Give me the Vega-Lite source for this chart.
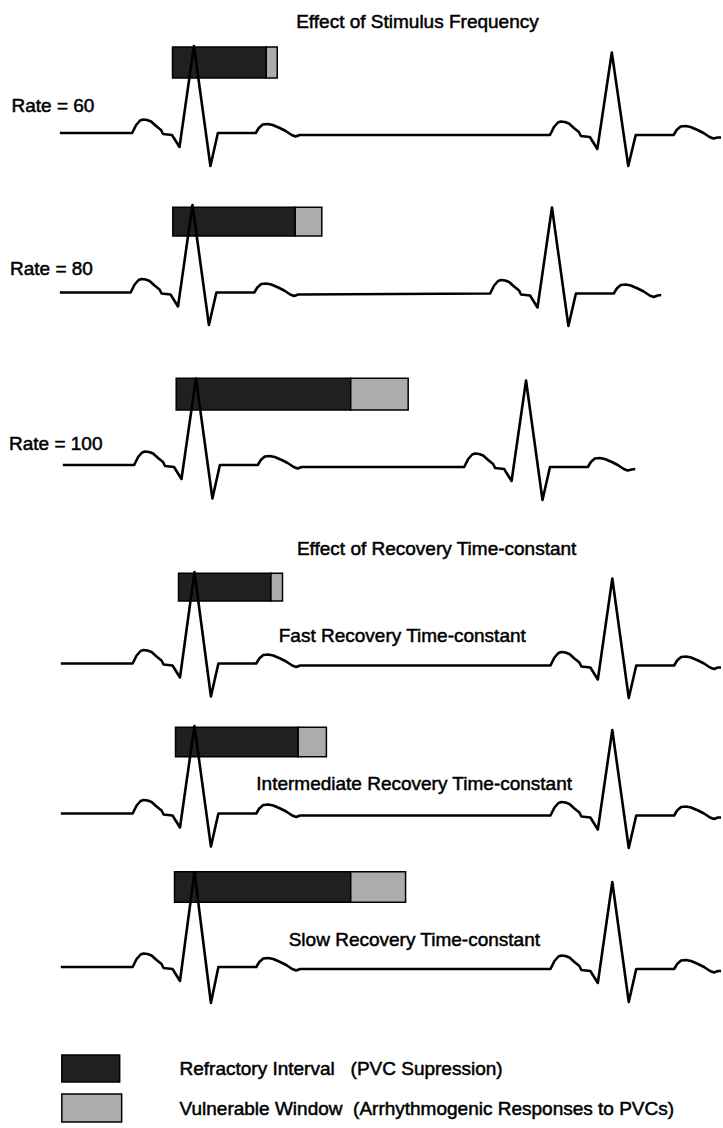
{
  "$schema": "https://vega.github.io/schema/vega-lite/v6.json",
  "width": 723,
  "height": 1128,
  "autosize": {"type": "fit", "contains": "padding"},
  "padding": 0,
  "background": "white",
  "view": {"stroke": null},
  "datasets": {
    "ecg": [
      {"t":1,"x":60,"y":133},{"t":1,"x":132.5,"y":133},{"t":1,"x":136.5,"y":125},{"t":1,"x":140.5,"y":120.5},{"t":1,"x":143.5,"y":119.5},{"t":1,"x":147.5,"y":120},{"t":1,"x":151.5,"y":121.5},{"t":1,"x":156.5,"y":126},{"t":1,"x":161.5,"y":130},{"t":1,"x":163.5,"y":134},{"t":1,"x":172.5,"y":135},{"t":1,"x":180,"y":147},{"t":1,"x":194.5,"y":46},{"t":1,"x":211,"y":166},{"t":1,"x":218.5,"y":133},{"t":1,"x":256.5,"y":133},{"t":1,"x":259.5,"y":128},{"t":1,"x":263.5,"y":124.5},{"t":1,"x":268.5,"y":124},{"t":1,"x":273.5,"y":125},{"t":1,"x":280.5,"y":128},{"t":1,"x":286.5,"y":131},{"t":1,"x":292.5,"y":135},{"t":1,"x":296.5,"y":136.5},{"t":1,"x":300.5,"y":135},
      {"t":1,"x":551.5,"y":135},{"t":1,"x":555.5,"y":127},{"t":1,"x":559.5,"y":122.5},{"t":1,"x":562.5,"y":121.5},{"t":1,"x":566.5,"y":122},{"t":1,"x":570.5,"y":123.5},{"t":1,"x":575.5,"y":128},{"t":1,"x":580.5,"y":132},{"t":1,"x":582.5,"y":136},{"t":1,"x":591.5,"y":137},{"t":1,"x":599,"y":149},{"t":1,"x":613.5,"y":52.5},{"t":1,"x":630,"y":166},{"t":1,"x":637.5,"y":135},{"t":1,"x":675.5,"y":135},{"t":1,"x":678.5,"y":130},{"t":1,"x":682.5,"y":126.5},{"t":1,"x":687.5,"y":126},{"t":1,"x":692.5,"y":127},{"t":1,"x":699.5,"y":130},{"t":1,"x":705.5,"y":133},{"t":1,"x":711.5,"y":137},{"t":1,"x":715.5,"y":138.5},{"t":1,"x":719.5,"y":137.5},{"t":1,"x":723,"y":137.5},

      {"t":2,"x":60,"y":292.5},{"t":2,"x":131,"y":292.5},{"t":2,"x":135,"y":284.5},{"t":2,"x":139,"y":280},{"t":2,"x":142,"y":279},{"t":2,"x":146,"y":279.5},{"t":2,"x":150,"y":281},{"t":2,"x":155,"y":285.5},{"t":2,"x":160,"y":289.5},{"t":2,"x":162,"y":293.5},{"t":2,"x":171,"y":294.5},{"t":2,"x":178.5,"y":306.5},{"t":2,"x":193,"y":205},{"t":2,"x":209.5,"y":325},{"t":2,"x":217,"y":292.5},{"t":2,"x":255,"y":292.5},{"t":2,"x":258,"y":287.5},{"t":2,"x":262,"y":284},{"t":2,"x":267,"y":283.5},{"t":2,"x":272,"y":284.5},{"t":2,"x":279,"y":287.5},{"t":2,"x":285,"y":290.5},{"t":2,"x":291,"y":294.5},{"t":2,"x":295,"y":296},{"t":2,"x":299,"y":294.5},
      {"t":2,"x":491.5,"y":293.5},{"t":2,"x":495.5,"y":285.5},{"t":2,"x":499.5,"y":281},{"t":2,"x":502.5,"y":280},{"t":2,"x":506.5,"y":280.5},{"t":2,"x":510.5,"y":282},{"t":2,"x":515.5,"y":286.5},{"t":2,"x":520.5,"y":290.5},{"t":2,"x":522.5,"y":294.5},{"t":2,"x":531.5,"y":295.5},{"t":2,"x":539,"y":307.5},{"t":2,"x":553.5,"y":207.5},{"t":2,"x":570,"y":326},{"t":2,"x":577.5,"y":293.5},{"t":2,"x":615.5,"y":293.5},{"t":2,"x":618.5,"y":288.5},{"t":2,"x":622.5,"y":285},{"t":2,"x":627.5,"y":284.5},{"t":2,"x":632.5,"y":285.5},{"t":2,"x":639.5,"y":288.5},{"t":2,"x":645.5,"y":291.5},{"t":2,"x":651.5,"y":295.5},{"t":2,"x":655.5,"y":297},{"t":2,"x":659.5,"y":295.5},{"t":2,"x":663,"y":295},

      {"t":3,"x":63,"y":465},{"t":3,"x":134.5,"y":465},{"t":3,"x":138.5,"y":457},{"t":3,"x":142.5,"y":452.5},{"t":3,"x":145.5,"y":451.5},{"t":3,"x":149.5,"y":452},{"t":3,"x":153.5,"y":453.5},{"t":3,"x":158.5,"y":458},{"t":3,"x":163.5,"y":462},{"t":3,"x":165.5,"y":466},{"t":3,"x":174.5,"y":467},{"t":3,"x":182,"y":479},{"t":3,"x":196.5,"y":378.5},{"t":3,"x":213,"y":498.5},{"t":3,"x":220.5,"y":465},{"t":3,"x":258.5,"y":465},{"t":3,"x":261.5,"y":460},{"t":3,"x":265.5,"y":456.5},{"t":3,"x":270.5,"y":456},{"t":3,"x":275.5,"y":457},{"t":3,"x":282.5,"y":460},{"t":3,"x":288.5,"y":463},{"t":3,"x":294.5,"y":467},{"t":3,"x":298.5,"y":468.5},{"t":3,"x":302.5,"y":467},
      {"t":3,"x":465.5,"y":467},{"t":3,"x":469.5,"y":459},{"t":3,"x":473.5,"y":454.5},{"t":3,"x":476.5,"y":453.5},{"t":3,"x":480.5,"y":454},{"t":3,"x":484.5,"y":455.5},{"t":3,"x":489.5,"y":460},{"t":3,"x":494.5,"y":464},{"t":3,"x":496.5,"y":468},{"t":3,"x":505.5,"y":469},{"t":3,"x":513,"y":481},{"t":3,"x":527.5,"y":380.5},{"t":3,"x":544,"y":500},{"t":3,"x":551.5,"y":467},{"t":3,"x":589.5,"y":467},{"t":3,"x":592.5,"y":462},{"t":3,"x":596.5,"y":458.5},{"t":3,"x":601.5,"y":458},{"t":3,"x":606.5,"y":459},{"t":3,"x":613.5,"y":462},{"t":3,"x":619.5,"y":465},{"t":3,"x":625.5,"y":469},{"t":3,"x":629.5,"y":470.5},{"t":3,"x":633.5,"y":469.5},{"t":3,"x":637,"y":469},

      {"t":4,"x":61,"y":663.5},{"t":4,"x":133,"y":663.5},{"t":4,"x":137,"y":655.5},{"t":4,"x":141,"y":651},{"t":4,"x":144,"y":650},{"t":4,"x":148,"y":650.5},{"t":4,"x":152,"y":652},{"t":4,"x":157,"y":656.5},{"t":4,"x":162,"y":660.5},{"t":4,"x":164,"y":664.5},{"t":4,"x":173,"y":665.5},{"t":4,"x":180.5,"y":677.5},{"t":4,"x":195,"y":572},{"t":4,"x":211.5,"y":696.5},{"t":4,"x":219,"y":663.5},{"t":4,"x":257,"y":663.5},{"t":4,"x":260,"y":658.5},{"t":4,"x":264,"y":655},{"t":4,"x":269,"y":654.5},{"t":4,"x":274,"y":655.5},{"t":4,"x":281,"y":658.5},{"t":4,"x":287,"y":661.5},{"t":4,"x":293,"y":665.5},{"t":4,"x":297,"y":667},{"t":4,"x":301,"y":665.5},
      {"t":4,"x":552,"y":665.5},{"t":4,"x":556,"y":657.5},{"t":4,"x":560,"y":653},{"t":4,"x":563,"y":652},{"t":4,"x":567,"y":652.5},{"t":4,"x":571,"y":654},{"t":4,"x":576,"y":658.5},{"t":4,"x":581,"y":662.5},{"t":4,"x":583,"y":666.5},{"t":4,"x":592,"y":667.5},{"t":4,"x":599.5,"y":679.5},{"t":4,"x":614,"y":578.5},{"t":4,"x":630.5,"y":698},{"t":4,"x":638,"y":665.5},{"t":4,"x":676,"y":665.5},{"t":4,"x":679,"y":660.5},{"t":4,"x":683,"y":657},{"t":4,"x":688,"y":656.5},{"t":4,"x":693,"y":657.5},{"t":4,"x":700,"y":660.5},{"t":4,"x":706,"y":663.5},{"t":4,"x":712,"y":667.5},{"t":4,"x":716,"y":669},{"t":4,"x":720,"y":667.5},{"t":4,"x":723,"y":667.5},

      {"t":5,"x":61,"y":813.5},{"t":5,"x":133,"y":813.5},{"t":5,"x":137,"y":805.5},{"t":5,"x":141,"y":801},{"t":5,"x":144,"y":800},{"t":5,"x":148,"y":800.5},{"t":5,"x":152,"y":802},{"t":5,"x":157,"y":806.5},{"t":5,"x":162,"y":810.5},{"t":5,"x":164,"y":814.5},{"t":5,"x":173,"y":815.5},{"t":5,"x":180.5,"y":827.5},{"t":5,"x":195,"y":726},{"t":5,"x":211.5,"y":846.5},{"t":5,"x":219,"y":813.5},{"t":5,"x":257,"y":813.5},{"t":5,"x":260,"y":808.5},{"t":5,"x":264,"y":805},{"t":5,"x":269,"y":804.5},{"t":5,"x":274,"y":805.5},{"t":5,"x":281,"y":808.5},{"t":5,"x":287,"y":811.5},{"t":5,"x":293,"y":815.5},{"t":5,"x":297,"y":817},{"t":5,"x":301,"y":815.5},
      {"t":5,"x":552,"y":815.5},{"t":5,"x":556,"y":807.5},{"t":5,"x":560,"y":803},{"t":5,"x":563,"y":802},{"t":5,"x":567,"y":802.5},{"t":5,"x":571,"y":804},{"t":5,"x":576,"y":808.5},{"t":5,"x":581,"y":812.5},{"t":5,"x":583,"y":816.5},{"t":5,"x":592,"y":817.5},{"t":5,"x":599.5,"y":829.5},{"t":5,"x":614,"y":730},{"t":5,"x":630.5,"y":848},{"t":5,"x":638,"y":815.5},{"t":5,"x":676,"y":815.5},{"t":5,"x":679,"y":810.5},{"t":5,"x":683,"y":807},{"t":5,"x":688,"y":806.5},{"t":5,"x":693,"y":807.5},{"t":5,"x":700,"y":810.5},{"t":5,"x":706,"y":813.5},{"t":5,"x":712,"y":817.5},{"t":5,"x":716,"y":819},{"t":5,"x":720,"y":817.5},{"t":5,"x":723,"y":817.5},

      {"t":6,"x":61,"y":967},{"t":6,"x":133,"y":967},{"t":6,"x":137,"y":959},{"t":6,"x":141,"y":954.5},{"t":6,"x":144,"y":953.5},{"t":6,"x":148,"y":954},{"t":6,"x":152,"y":955.5},{"t":6,"x":157,"y":960},{"t":6,"x":162,"y":964},{"t":6,"x":164,"y":968},{"t":6,"x":173,"y":969},{"t":6,"x":180.5,"y":981},{"t":6,"x":195,"y":872},{"t":6,"x":211.5,"y":1003},{"t":6,"x":219,"y":967},{"t":6,"x":257,"y":967},{"t":6,"x":260,"y":962},{"t":6,"x":264,"y":958.5},{"t":6,"x":269,"y":958},{"t":6,"x":274,"y":959},{"t":6,"x":281,"y":962},{"t":6,"x":287,"y":965},{"t":6,"x":293,"y":969},{"t":6,"x":297,"y":970.5},{"t":6,"x":301,"y":969},
      {"t":6,"x":552,"y":969},{"t":6,"x":556,"y":961},{"t":6,"x":560,"y":956.5},{"t":6,"x":563,"y":955.5},{"t":6,"x":567,"y":956},{"t":6,"x":571,"y":957.5},{"t":6,"x":576,"y":962},{"t":6,"x":581,"y":966},{"t":6,"x":583,"y":970},{"t":6,"x":592,"y":971},{"t":6,"x":599.5,"y":983},{"t":6,"x":614,"y":882},{"t":6,"x":630.5,"y":1002},{"t":6,"x":638,"y":969},{"t":6,"x":676,"y":969},{"t":6,"x":679,"y":964},{"t":6,"x":683,"y":960.5},{"t":6,"x":688,"y":960},{"t":6,"x":693,"y":961},{"t":6,"x":700,"y":964},{"t":6,"x":706,"y":967},{"t":6,"x":712,"y":971},{"t":6,"x":716,"y":972.5},{"t":6,"x":720,"y":971},{"t":6,"x":723,"y":971}
    ],
    "bars": [
      {"t":1,"part":"Refractory","x1":173,"x2":267,"y1":47,"y2":78},
      {"t":1,"part":"Vulnerable","x1":267,"x2":278,"y1":47,"y2":78},
      {"t":2,"part":"Refractory","x1":173.3,"x2":296,"y1":207.3,"y2":236},
      {"t":2,"part":"Vulnerable","x1":296,"x2":322.7,"y1":207.3,"y2":236},
      {"t":3,"part":"Refractory","x1":176.7,"x2":351.7,"y1":378.3,"y2":410},
      {"t":3,"part":"Vulnerable","x1":351.7,"x2":409.3,"y1":378.3,"y2":410},
      {"t":4,"part":"Refractory","x1":179,"x2":271.7,"y1":573.3,"y2":601},
      {"t":4,"part":"Vulnerable","x1":271.7,"x2":283.3,"y1":573.3,"y2":601},
      {"t":5,"part":"Refractory","x1":176,"x2":299,"y1":727.3,"y2":756.7},
      {"t":5,"part":"Vulnerable","x1":299,"x2":327.3,"y1":727.3,"y2":756.7},
      {"t":6,"part":"Refractory","x1":175,"x2":351.7,"y1":871.7,"y2":902.3},
      {"t":6,"part":"Vulnerable","x1":351.7,"x2":406.7,"y1":871.7,"y2":902.3},
      {"t":0,"part":"Refractory","x1":62,"x2":120,"y1":1055,"y2":1082},
      {"t":0,"part":"Vulnerable","x1":62,"x2":122,"y1":1094,"y2":1122}
    ],
    "labels": [
      {"text":"Effect of Stimulus Frequency","x":297,"y":27.5},
      {"text":"Rate = 60","x":11.5,"y":111.5},
      {"text":"Rate = 80","x":10,"y":275},
      {"text":"Rate = 100","x":9,"y":449.5},
      {"text":"Effect of Recovery Time-constant","x":297.7,"y":555},
      {"text":"Fast Recovery Time-constant","x":279.5,"y":641.5},
      {"text":"Intermediate Recovery Time-constant","x":257,"y":790},
      {"text":"Slow Recovery Time-constant","x":289.5,"y":946},
      {"text":"Refractory Interval\u00a0\u00a0\u00a0(PVC Supression)","x":180,"y":1075},
      {"text":"Vulnerable Window\u00a0\u00a0(Arrhythmogenic Responses to PVCs)","x":180,"y":1115}
    ]
  },
  "layer": [
    {
      "data": {"name": "bars"},
      "mark": {"type": "rect", "stroke": "black", "strokeWidth": 1.5},
      "encoding": {
        "x": {"field": "x1", "type": "quantitative", "scale": {"domain": [0, 723], "nice": false, "zero": false}, "axis": null},
        "x2": {"field": "x2"},
        "y": {"field": "y1", "type": "quantitative", "scale": {"domain": [0, 1128], "nice": false, "zero": false, "reverse": true}, "axis": null},
        "y2": {"field": "y2"},
        "fill": {"field": "part", "type": "nominal", "scale": {"domain": ["Refractory", "Vulnerable"], "range": ["#202020", "#acacac"]}, "legend": null}
      }
    },
    {
      "data": {"name": "ecg"},
      "mark": {"type": "line", "color": "black", "strokeWidth": 2.6, "strokeJoin": "round"},
      "encoding": {
        "x": {"field": "x", "type": "quantitative", "axis": null},
        "y": {"field": "y", "type": "quantitative", "axis": null},
        "detail": {"field": "t", "type": "nominal"}
      }
    },
    {
      "data": {"name": "labels"},
      "mark": {"type": "text", "align": "left", "baseline": "alphabetic", "font": "Liberation Sans", "fontSize": 19, "color": "black", "stroke": "black", "strokeWidth": 0.5},
      "encoding": {
        "x": {"field": "x", "type": "quantitative", "axis": null},
        "y": {"field": "y", "type": "quantitative", "axis": null},
        "text": {"field": "text", "type": "nominal"}
      }
    }
  ]
}
